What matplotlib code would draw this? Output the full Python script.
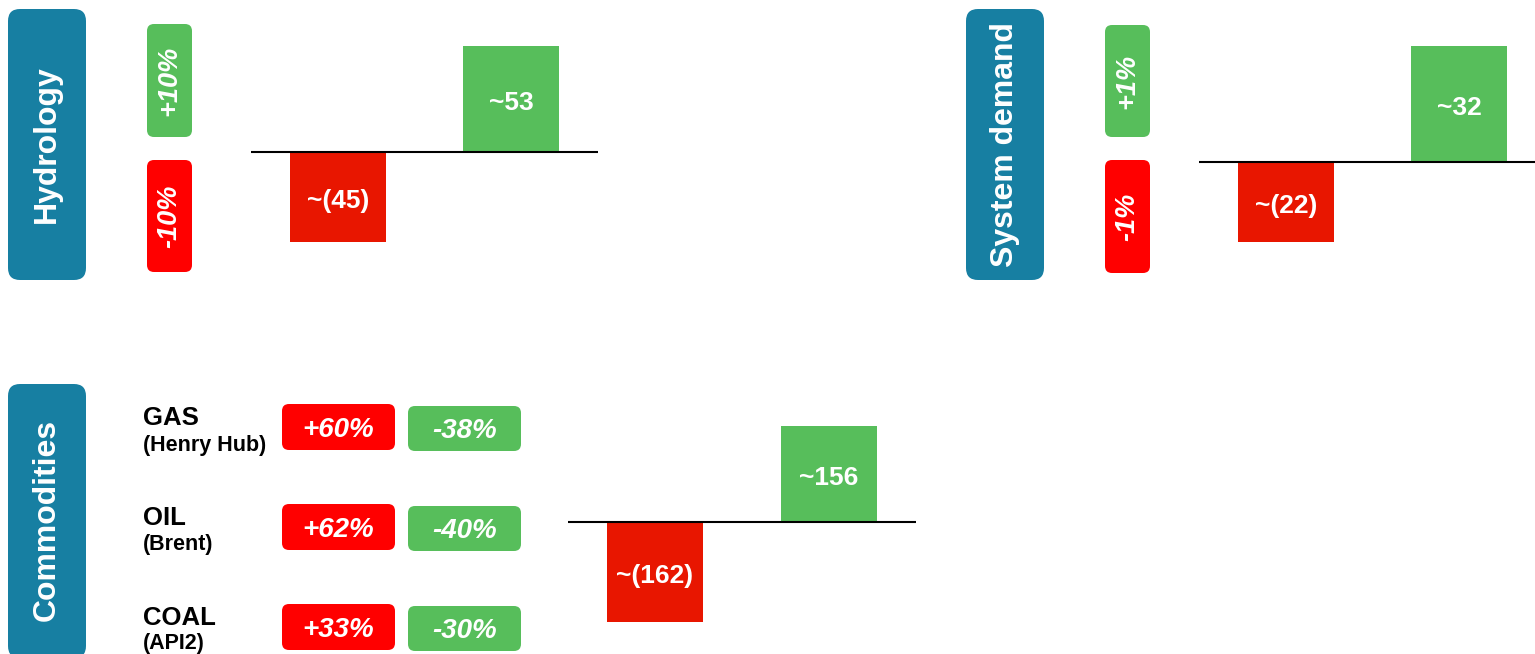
import matplotlib
matplotlib.use("Agg")
import matplotlib.pyplot as plt
from matplotlib.patches import FancyBboxPatch

# ---- data ----
hydro_values = [-45, 53]
hydro_moves = ["+10%", "-10%"]

demand_values = [-22, 32]
demand_moves = ["+1%", "-1%"]

commodity_values = [-162, 156]
commodity_names = ["GAS", "OIL", "COAL"]
commodity_refs = ["(Henry Hub)", "(Brent)", "(API2)"]
commodity_up = ["+60%", "+62%", "+33%"]
commodity_down = ["-38%", "-40%", "-30%"]

panel_titles = ["Hydrology", "System demand", "Commodities"]

# ---- style ----
BLUE = "#177FA2"
GREEN = "#57BE5B"
PILL_RED = "#FF0000"
BAR_RED = "#E81600"
FONT = "Liberation Sans"

W, H = 1535, 654
fig = plt.figure(figsize=(W / 100, H / 100), dpi=100)
fig.patch.set_facecolor("white")

# overlay axes in pixel units for the boxes and labels
ov = fig.add_axes([0, 0, 1, 1])
ov.set_xlim(0, W)
ov.set_ylim(H, 0)
ov.axis("off")


def rbox(x0, y0, x1, y1, color, r):
    p = FancyBboxPatch((x0 + r, y0 + r), (x1 - x0) - 2 * r, (y1 - y0) - 2 * r,
                       boxstyle=f"round,pad={r},rounding_size={r}",
                       fc=color, ec="none", zorder=1)
    ov.add_patch(p)


def title_box(x0, y0, x1, y1, text, cy):
    rbox(x0, y0, x1, y1, BLUE, 12)
    ov.text((x0 + x1) / 2, cy, text, rotation=90, ha="center", va="center",
            color="white", fontsize=23, fontweight="bold", family=FONT, zorder=3)


def pill(x0, y0, x1, y1, color, text, rot, size, dy=0):
    rbox(x0, y0, x1, y1, color, 7)
    ov.text((x0 + x1) / 2, (y0 + y1) / 2 + dy, text, rotation=rot, ha="center",
            va="center", color="white", fontsize=size, fontweight="bold",
            style="italic", family=FONT, zorder=3)


def bar_panel(px0, px1, py0, py1, zero_y, scale, xlim, values):
    ax = fig.add_axes([px0 / W, 1 - py1 / H, (px1 - px0) / W, (py1 - py0) / H])
    ax.set_xlim(*xlim)
    ax.set_ylim(-(py1 - zero_y) / scale, (zero_y - py0) / scale)
    ax.axis("off")
    xs = [0, 1]
    colors = [BAR_RED if v < 0 else GREEN for v in values]
    ax.bar(xs, values, width=0.553, color=colors, zorder=1)
    ax.axhline(0, color="black", lw=1.5, zorder=2)
    for x, v in zip(xs, values):
        lab = f"~({abs(v)})" if v < 0 else f"~{v}"
        ax.annotate(lab, (x, v / 2), xytext=(0, -3), textcoords="offset points",
                    ha="center", va="center", color="white",
                    fontsize=19, fontweight="bold", family=FONT, zorder=3)
    return ax


# ---- Hydrology ----
title_box(8, 9, 86, 280, panel_titles[0], 144)
pill(147, 24, 192, 137, GREEN, hydro_moves[0], 90, 19.5)
pill(147, 160, 192, 272, PILL_RED, hydro_moves[1], 90, 19.5)
bar_panel(251, 598, 40, 260, 152, 2.0, (-0.5, 1.5), hydro_values)

# ---- System demand ----
title_box(966, 9, 1044, 280, panel_titles[1], 145)
pill(1105, 25, 1150, 137, GREEN, demand_moves[0], 90, 19.5)
pill(1105, 160, 1150, 273, PILL_RED, demand_moves[1], 90, 19.5)
bar_panel(1199, 1535, 40, 260, 162, 3.63, (-0.5, 1.435), demand_values)

# ---- Commodities ----
title_box(8, 384, 86, 658, panel_titles[2], 520)
name_base = [425, 525, 625]
ref_base = [451, 550, 649]
pill_top = [404, 504, 604]
for i in range(3):
    ov.text(143, name_base[i], commodity_names[i], ha="left", va="baseline",
            fontsize=18.5, fontweight="bold", family=FONT, color="black")
    ov.text(143, ref_base[i], commodity_refs[i], ha="left", va="baseline",
            fontsize=15.5, fontweight="bold", family=FONT, color="black")
    t = pill_top[i]
    pill(282, t, 395, t + 46, PILL_RED, commodity_up[i], 0, 20, dy=3)
    pill(408, t + 2, 521, t + 47, GREEN, commodity_down[i], 0, 20, dy=3)
bar_panel(568, 916, 400, 640, 522, 0.616, (-0.5, 1.5), commodity_values)

fig.savefig("out.png", dpi=100, facecolor="white")
